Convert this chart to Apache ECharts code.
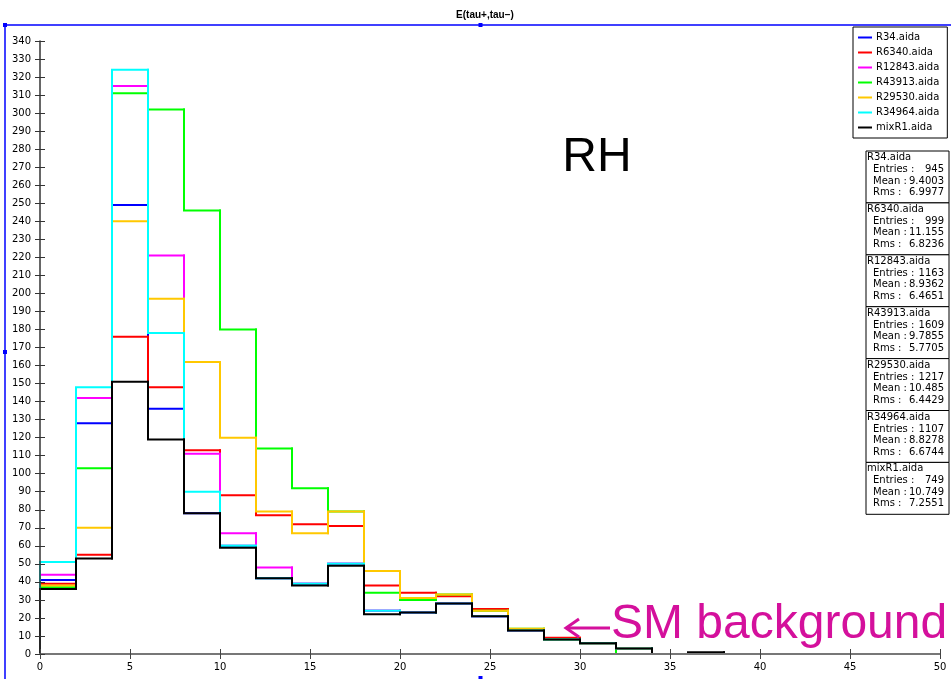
<!DOCTYPE html>
<html>
<head>
<meta charset="utf-8">
<script src="https://cdn.jsdelivr.net/npm/echarts@6/dist/echarts.min.js"></script>
<style>
  html, body { margin: 0; padding: 0; background: #fff; }
  #chart { width: 951px; height: 679px; }
</style>
</head>
<body>
<div id="chart"></div>
<script>
// Histogram bins: width 2, from 0 to 50
const binWidth = 2;
const binCount = 25;

const seriesNames = ['R34.aida', 'R6340.aida', 'R12843.aida', 'R43913.aida', 'R29530.aida', 'R34964.aida', 'mixR1.aida'];
const seriesColors = ['#0000ff', '#ff0000', '#ff00ff', '#00ff00', '#ffc800', '#00ffff', '#000000'];

// Bin contents per sample
const r34     = [41, 128, 249, 136, 78, 60, 42, 39, 50, 24, 23, 28, 21, 13, 8, 6, 0, 0, 0, 0, 0, 0, 0, 0, 0];
const r6340   = [39, 55, 176, 148, 113, 88, 77, 72, 71, 38, 34, 32, 25, 13, 9, 6, 3, 0, 0, 0, 0, 0, 0, 0, 0];
const r12843  = [44, 142, 315, 221, 111, 67, 48, 39, 50, 24, 23, 28, 21, 13, 8, 6, 0, 0, 0, 0, 0, 0, 0, 0, 0];
const r43913  = [37, 103, 311, 302, 246, 180, 114, 92, 79, 34, 30, 33, 24, 14, 8, 6, 0, 0, 0, 0, 0, 0, 0, 0, 0];
const r29530  = [38, 70, 240, 197, 162, 120, 79, 67, 79, 46, 31, 33, 24, 14, 8, 6, 3, 0, 0, 0, 0, 0, 0, 0, 0];
const r34964  = [51, 148, 324, 178, 90, 60, 42, 39, 50, 24, 23, 28, 21, 13, 8, 6, 3, 0, 0, 0, 0, 0, 0, 0, 0];
const mixR1   = [36, 53, 151, 119, 78, 59, 42, 38, 49, 22, 23, 28, 21, 13, 8, 6, 3, 0, 1, 0, 0, 0, 0, 0, 0];

// Statistics shown in the side boxes
const statEntries = ['945', '999', '1163', '1609', '1217', '1107', '749'];
const statMeans   = ['9.4003', '11.155', '8.9362', '9.7855', '10.485', '8.8278', '10.749'];
const statRms     = ['6.9977', '6.8236', '6.4651', '5.7705', '6.4429', '6.6744', '7.2551'];

// Axis ranges
const xMin = 0, xMax = 50, xStep = 5;
const yMin = 0, yMax = 340, yStep = 10;

const binSets = [r34, r6340, r12843, r43913, r29530, r34964, mixR1];

const FONT = 'DejaVu Sans';
const chart = echarts.init(document.getElementById('chart'), null, { renderer: 'canvas' });

// Each bin: [left edge, right edge, content, content of previous bin]
function binRows(values) {
  return values.map((v, b) => [b * binWidth, (b + 1) * binWidth, v, b === 0 ? 0 : values[b - 1]]);
}

// Outline of one bin: rise (or drop) at the left edge, then across at the bin height
function makeRenderer(color) {
  return function (params, api) {
    const x0 = api.value(0), x1 = api.value(1), v = api.value(2), pv = api.value(3);
    const a = api.coord([x0, pv]);
    const b = api.coord([x0, v]);
    const c = api.coord([x1, v]);
    return {
      type: 'polyline',
      shape: { points: [a, b, c] },
      style: { stroke: color, lineWidth: 2, fill: null, lineCap: 'square', lineJoin: 'miter' },
      silent: true
    };
  };
}

const series = binSets.map((vals, i) => ({
  name: seriesNames[i],
  type: 'custom',
  coordinateSystem: 'cartesian2d',
  xAxisIndex: 0,
  yAxisIndex: 0,
  data: binRows(vals),
  encode: { x: [0, 1], y: [2, 3] },
  renderItem: makeRenderer(seriesColors[i]),
  itemStyle: { color: seriesColors[i] },
  z: 2 + i * 0.01,
  animation: false
}));

// Statistics boxes on the right
const statGraphics = [];
const boxX = 866, boxY = 151, boxW = 83, boxH = 51.9;
const statFont = '10px "' + FONT + '"';
for (let k = 0; k < seriesNames.length; k++) {
  const y0 = boxY + k * boxH;
  statGraphics.push({
    type: 'rect', shape: { x: boxX, y: y0, width: boxW, height: boxH },
    style: { fill: '#fff', stroke: '#000', lineWidth: 1 }, z: 10
  });
  const rows = [
    { t: seriesNames[k], x: boxX + 1, dy: 6.5 },
    { t: 'Entries :', x: boxX + 7, dy: 18.5, v: statEntries[k] },
    { t: 'Mean :', x: boxX + 7, dy: 30, v: statMeans[k] },
    { t: 'Rms :', x: boxX + 7, dy: 41.5, v: statRms[k] }
  ];
  rows.forEach(r => {
    statGraphics.push({
      type: 'text', z: 11,
      style: { text: r.t, x: r.x, y: y0 + r.dy, font: statFont, fill: '#000', verticalAlign: 'middle', align: 'left' }
    });
    if (r.v) {
      statGraphics.push({
        type: 'text', z: 11,
        style: { text: r.v, x: boxX + 78, y: y0 + r.dy, font: statFont, fill: '#000', verticalAlign: 'middle', align: 'right' }
      });
    }
  });
}

// Selection frame markers (blue)
const BLUE = '#0000ff';
const frameGraphics = [
  { type: 'line', shape: { x1: 5, y1: 25, x2: 951, y2: 25 }, style: { stroke: BLUE, lineWidth: 1.5 }, z: 20 },
  { type: 'line', shape: { x1: 5, y1: 25, x2: 5, y2: 679 }, style: { stroke: BLUE, lineWidth: 1.5 }, z: 20 },
  { type: 'rect', shape: { x: 3, y: 23, width: 4, height: 4 }, style: { fill: BLUE }, z: 21 },
  { type: 'rect', shape: { x: 478.5, y: 23, width: 4, height: 4 }, style: { fill: BLUE }, z: 21 },
  { type: 'rect', shape: { x: 3, y: 350, width: 4, height: 4 }, style: { fill: BLUE }, z: 21 },
  { type: 'rect', shape: { x: 478.5, y: 676, width: 4, height: 4 }, style: { fill: BLUE }, z: 21 }
];

const MAGENTA = '#d4109c';
const annotGraphics = [
  { type: 'text', z: 30, style: { text: 'RH', x: 597, y: 158, font: '48px "Liberation Sans"', fill: '#000', align: 'center', verticalAlign: 'middle' } },
  { type: 'text', z: 30, style: { text: 'SM background', x: 611, y: 625, font: '48px "Liberation Sans"', fill: MAGENTA, align: 'left', verticalAlign: 'middle' } },
  { type: 'polyline', z: 30, shape: { points: [[566, 628], [610, 628]] }, style: { stroke: MAGENTA, lineWidth: 3, fill: null } },
  { type: 'polyline', z: 30, shape: { points: [[579, 619], [566, 628], [579, 637]] }, style: { stroke: MAGENTA, lineWidth: 3, fill: null } }
];

const axisFont = { fontFamily: FONT, fontSize: 10, color: '#000' };

const option = {
  animation: false,
  backgroundColor: '#fff',
  title: {
    text: 'E(tau+,tau\u2212)',
    left: 480, textAlign: 'center', top: 5,
    textStyle: { fontFamily: 'Liberation Sans', fontSize: 10, fontWeight: 'bold', color: '#000' }
  },
  legend: {
    data: seriesNames,
    orient: 'vertical',
    left: 853, top: 27,
    icon: 'rect',
    itemWidth: 14, itemHeight: 2,
    itemGap: 4,
    padding: [5, 8, 5, 5],
    borderColor: '#000', borderWidth: 1,
    backgroundColor: '#fff',
    selectedMode: false,
    textStyle: { fontFamily: FONT, fontSize: 10, color: '#000', lineHeight: 11, padding: [0, 0, 0, -1] },
    z: 10
  },
  grid: { left: 40, right: 11, top: 41, bottom: 25, containLabel: false },
  xAxis: [
    {
      type: 'value', min: xMin, max: xMax, interval: xStep, position: 'bottom', z: 5,
      axisLine: { show: true, lineStyle: { color: '#777', width: 2 } },
      axisTick: { show: true, inside: false, length: 5, lineStyle: { color: '#444', width: 1 } },
      axisLabel: Object.assign({ margin: 8 }, axisFont),
      splitLine: { show: false }
    },
    {
      type: 'value', min: xMin, max: xMax, interval: xStep, position: 'bottom', z: 5,
      axisLine: { show: false },
      axisTick: { show: true, inside: true, length: 5, lineStyle: { color: '#444', width: 1 } },
      axisLabel: { show: false },
      splitLine: { show: false }
    }
  ],
  yAxis: [
    {
      type: 'value', min: yMin, max: yMax, interval: yStep, position: 'left', z: 5,
      axisLine: { show: true, lineStyle: { color: '#333', width: 1.5 } },
      axisTick: { show: true, inside: false, length: 5, lineStyle: { color: '#333', width: 1 } },
      axisLabel: Object.assign({ margin: 9 }, axisFont),
      splitLine: { show: false }
    },
    {
      type: 'value', min: yMin, max: yMax, interval: yStep, position: 'left', z: 5,
      axisLine: { show: false },
      axisTick: { show: true, inside: true, length: 5, lineStyle: { color: '#333', width: 1 } },
      axisLabel: { show: false },
      splitLine: { show: false }
    }
  ],
  series: series,
  graphic: frameGraphics.concat(statGraphics, annotGraphics)
};

chart.setOption(option);
</script>
</body>
</html>
